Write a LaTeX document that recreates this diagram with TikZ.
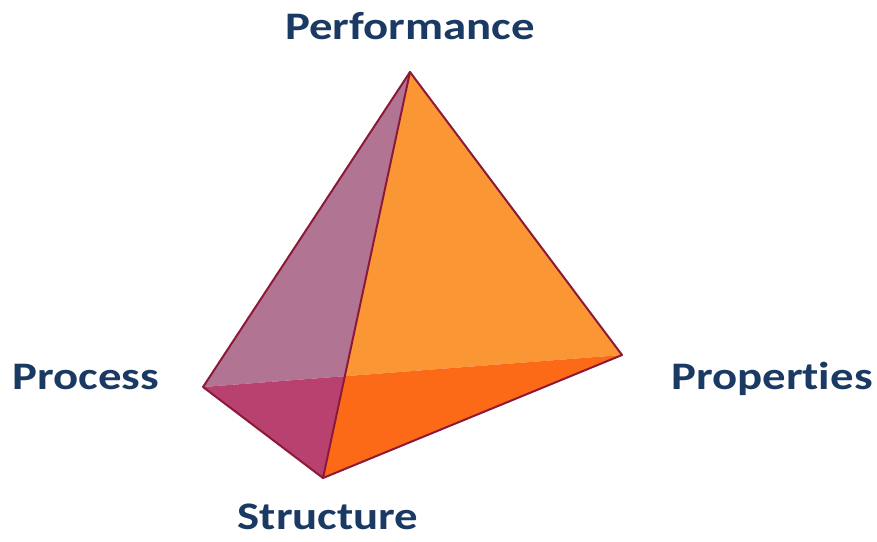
\documentclass[tikz,border=0pt]{standalone}
\usepackage{fontspec}
\setmainfont{Carlito}[Ligatures=NoCommon]
\usetikzlibrary{calc}
\definecolor{labelblue}{RGB}{26,58,100}
\definecolor{edgecol}{RGB}{140,25,55}
\definecolor{mauve}{RGB}{177,117,147}
\definecolor{magentadark}{RGB}{185,65,112}
\definecolor{orangelight}{RGB}{250,150,52}
\definecolor{orangedark}{RGB}{252,106,24}
\newcommand{\wide}[1]{\scalebox{1.2}[1]{#1}}
\tikzset{
  lbl/.style={font=\fontsize{39}{44}\selectfont\bfseries, text=labelblue, inner sep=0pt, anchor=base},
  edge/.style={draw=edgecol, line width=2pt, line join=round, line cap=round},
}
\begin{document}
\begin{tikzpicture}[x=1pt,y=-1pt]
\useasboundingbox (0,0) rectangle (877,541);
\coordinate (T) at (410,72);
\coordinate (L) at (203,387);
\coordinate (R) at (622,355);
\coordinate (B) at (323,478);
\coordinate (X) at (intersection of L--R and T--B);
% faces
\fill[mauve] (T) -- (L) -- (X) -- cycle;
\fill[magentadark] (L) -- (B) -- (X) -- cycle;
\fill[orangelight] (T) -- (X) -- (R) -- cycle;
\fill[orangedark] (X) -- (B) -- (R) -- cycle;
% edges
\draw[edge] (T) -- (L) -- (B) -- (R) -- cycle;
\draw[edge] (T) -- (B);
% labels
\node[lbl] (perf) at (410,39) {\wide{Performance}};
\node[lbl] (proc) at (86,389) {\wide{Process}};
\node[lbl] (prop) at (772,389) {\wide{Properties}};
\node[lbl] (struc) at (328,529) {\wide{Structure}};
\end{tikzpicture}
\end{document}
